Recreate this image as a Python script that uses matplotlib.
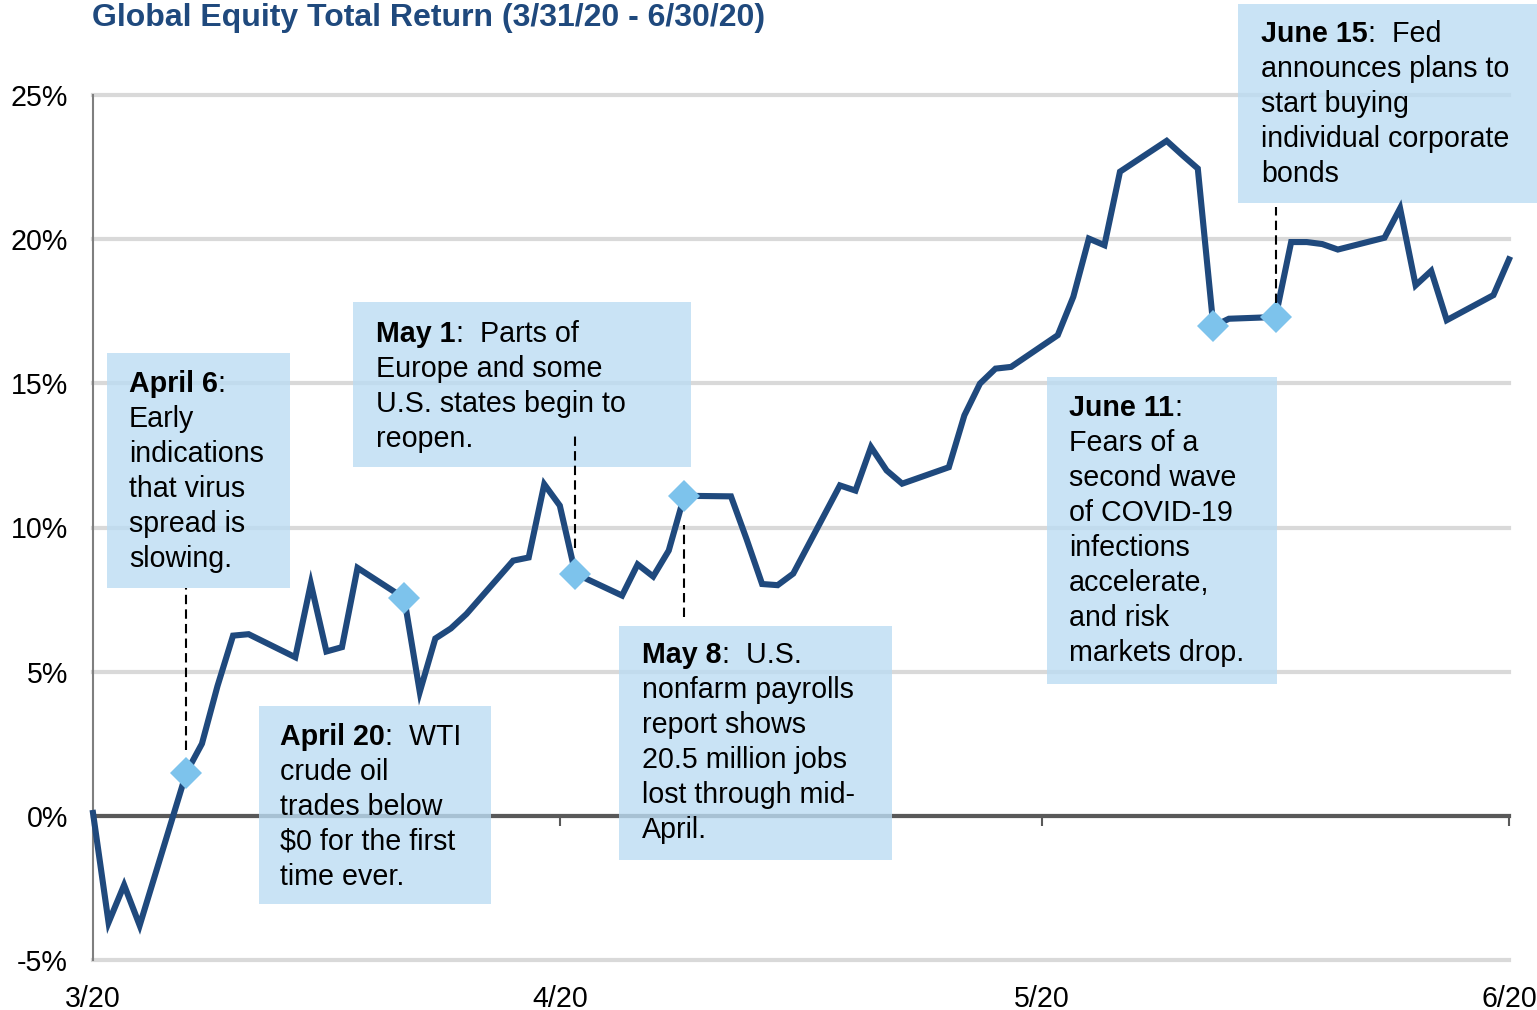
import matplotlib
matplotlib.use("Agg")
import matplotlib.pyplot as plt
import matplotlib.dates as mdates
from matplotlib.patches import Rectangle
import pandas as pd

plt.rcParams['font.family'] = ['Liberation Sans', 'DejaVu Sans']

# daily closes (cumulative total return, %)
dates = ["2020-03-31", "2020-04-01", "2020-04-02", "2020-04-03", "2020-04-06", "2020-04-07",
         "2020-04-08", "2020-04-09", "2020-04-10", "2020-04-13", "2020-04-14", "2020-04-15",
         "2020-04-16", "2020-04-17", "2020-04-20", "2020-04-21", "2020-04-22", "2020-04-23",
         "2020-04-24", "2020-04-27", "2020-04-28", "2020-04-29", "2020-04-30",
         "2020-05-01", "2020-05-04", "2020-05-05", "2020-05-06", "2020-05-07", "2020-05-08",
         "2020-05-11", "2020-05-12", "2020-05-13", "2020-05-14", "2020-05-15", "2020-05-18",
         "2020-05-19", "2020-05-20", "2020-05-21", "2020-05-22", "2020-05-25", "2020-05-26",
         "2020-05-27", "2020-05-28", "2020-05-29",
         "2020-06-01", "2020-06-02", "2020-06-03", "2020-06-04", "2020-06-05", "2020-06-08",
         "2020-06-09", "2020-06-10", "2020-06-11", "2020-06-12", "2020-06-15", "2020-06-16",
         "2020-06-17", "2020-06-18", "2020-06-19", "2020-06-22", "2020-06-23", "2020-06-24",
         "2020-06-25", "2020-06-26", "2020-06-29", "2020-06-30"]
returns = [0.1, -3.7, -2.4, -3.8, 1.5, 2.5,
           4.5, 6.25, 6.3, 5.5, 8.05, 5.7,
           5.85, 8.6, 7.55, 4.3, 6.15, 6.5,
           7.0, 8.85, 8.96, 11.5, 10.76,
           8.4, 7.64, 8.72, 8.3, 9.2, 11.1,
           11.08, 9.6, 8.04, 8.0, 8.4, 11.46,
           11.28, 12.79, 11.98, 11.52, 12.09, 13.89,
           14.99, 15.51, 15.57,
           16.67, 18.0, 20.02, 19.79, 22.34, 23.41,
           22.92, 22.45, 16.98, 17.24, 17.3, 19.9,
           19.9, 19.83, 19.64, 20.05, 21.07, 18.4,
           18.9, 17.19, 18.06, 19.3]

tick_dates = ["2020-03-31", "2020-04-30", "2020-05-31", "2020-06-30"]
tick_labels = ["3/20", "4/20", "5/20", "6/20"]
y_ticks = [-5, 0, 5, 10, 15, 20, 25]

title = "Global Equity Total Return (3/31/20 - 6/30/20)"

event_dates = ["2020-04-06", "2020-04-20", "2020-05-01", "2020-05-08", "2020-06-11", "2020-06-15"]
event_names = ["April 6", "April 20", "May 1", "May 8", "June 11", "June 15"]
event_heads = [":", ":  WTI", ":  Parts of", ":  U.S.", ":", ":  Fed"]
event_lines = [
    ["Early", "indications", "that virus", "spread is", "slowing."],
    ["crude oil", "trades below", "$0 for the first", "time ever."],
    ["Europe and some", "U.S. states begin to", "reopen."],
    ["nonfarm payrolls", "report shows", "20.5 million jobs", "lost through mid-", "April."],
    ["Fears of a", "second wave", "of COVID-19", "infections", "accelerate,", "and risk",
     "markets drop."],
    ["announces plans to", "start buying", "individual corporate", "bonds"],
]

# layout of the callouts, in pixels from the top-left corner: box x0, y0, x1, y1, text x, first baseline
boxes = [(107, 353, 290, 588, 129, 392),
         (259, 706, 491, 904, 280, 745),
         (353, 302, 691, 467, 376, 342),
         (619, 626, 892, 860, 642, 663),
         (1047, 377, 1277, 684, 1069, 416),
         (1238, 4, 1537, 203, 1261, 42)]
# dashed leaders (top %, bottom %), None = no leader
leaders = [(7.9, 2.3), None, (13.2, 9.3), (10.1, 6.9), None, (21.1, 17.8)]

W, H = 1537, 1010
NAVY = "#1f497d"
FS = 20.6

fig = plt.figure(figsize=(W / 100, H / 100), dpi=100)
ax = fig.add_axes([93 / W, 1 - 960 / H, (1509 - 93) / W, (960 - 95) / H])

x = mdates.date2num(pd.to_datetime(dates))
ax.plot(x, returns, color=NAVY, lw=4.4, zorder=3, clip_on=False, solid_joinstyle='miter')

ev_x = mdates.date2num(pd.to_datetime(event_dates))
ev_y = [returns[dates.index(d)] for d in event_dates]
ax.plot(ev_x, ev_y, 'D', color='#7dc3ec', ms=16.5, mew=0, zorder=4, clip_on=False)

for ex, ld in zip(ev_x, leaders):
    if ld is not None:
        ax.vlines(ex, ld[1], ld[0], colors='black', lw=1.5, linestyles=(0, (4.5, 2.5)), zorder=4.5)

ax.set_xlim(x[0], mdates.date2num(pd.Timestamp("2020-06-30")))
ax.set_ylim(-5, 25)
ax.set_yticks(y_ticks)
ax.set_yticklabels([f"{v}%" for v in y_ticks])
tx = mdates.date2num(pd.to_datetime(tick_dates))
ax.set_xticks(tx)
ax.set_xticklabels(tick_labels)
ax.tick_params(axis='both', length=0, labelsize=FS, pad=18)

ax.yaxis.grid(True, color='#d9d9d9', lw=3)
ax.set_axisbelow(True)
for g in ax.get_ygridlines():
    g.set_clip_on(False)

for s in ['top', 'right', 'bottom']:
    ax.spines[s].set_visible(False)
ax.spines['left'].set_color('#7f7f7f')
ax.spines['left'].set_linewidth(1.5)

# zero line with its own ticks
zero = ax.secondary_xaxis((0 - (-5)) / 30)
zero.set_xticks(tx)
zero.tick_params(axis='x', length=7, width=1.5, color='#595959', labelbottom=False)
zero.spines['bottom'].set_color('#595959')
zero.spines['bottom'].set_linewidth(3)
zero.set_zorder(1.5)

renderer = fig.canvas.get_renderer()
for (x0, y0, x1, y1, txp, base), name, head, lines in zip(boxes, event_names, event_heads, event_lines):
    ax.add_patch(Rectangle((x0 / W, 1 - y1 / H), (x1 - x0) / W, (y1 - y0) / H,
                           transform=fig.transFigure, facecolor='#bcdcf3', alpha=0.8,
                           edgecolor='none', zorder=2, clip_on=False))
    t = ax.text(txp / W, 1 - base / H, name, transform=fig.transFigure, fontsize=FS,
                fontweight='bold', va='baseline', ha='left', zorder=5)
    bb = t.get_window_extent(renderer)
    ax.text(bb.x1 / W, 1 - base / H, head, transform=fig.transFigure, fontsize=FS,
            va='baseline', ha='left', zorder=5)
    for k, ln in enumerate(lines):
        ax.text(txp / W, 1 - (base + 35 * (k + 1)) / H, ln, transform=fig.transFigure,
                fontsize=FS, va='baseline', ha='left', zorder=5)

# the title sits right at the top edge, as in the source slide
fig.text(92 / W, 1 - 26 / H, title, fontsize=23, fontweight='bold', color=NAVY, va='baseline')

fig.savefig("out.png", dpi=100)
